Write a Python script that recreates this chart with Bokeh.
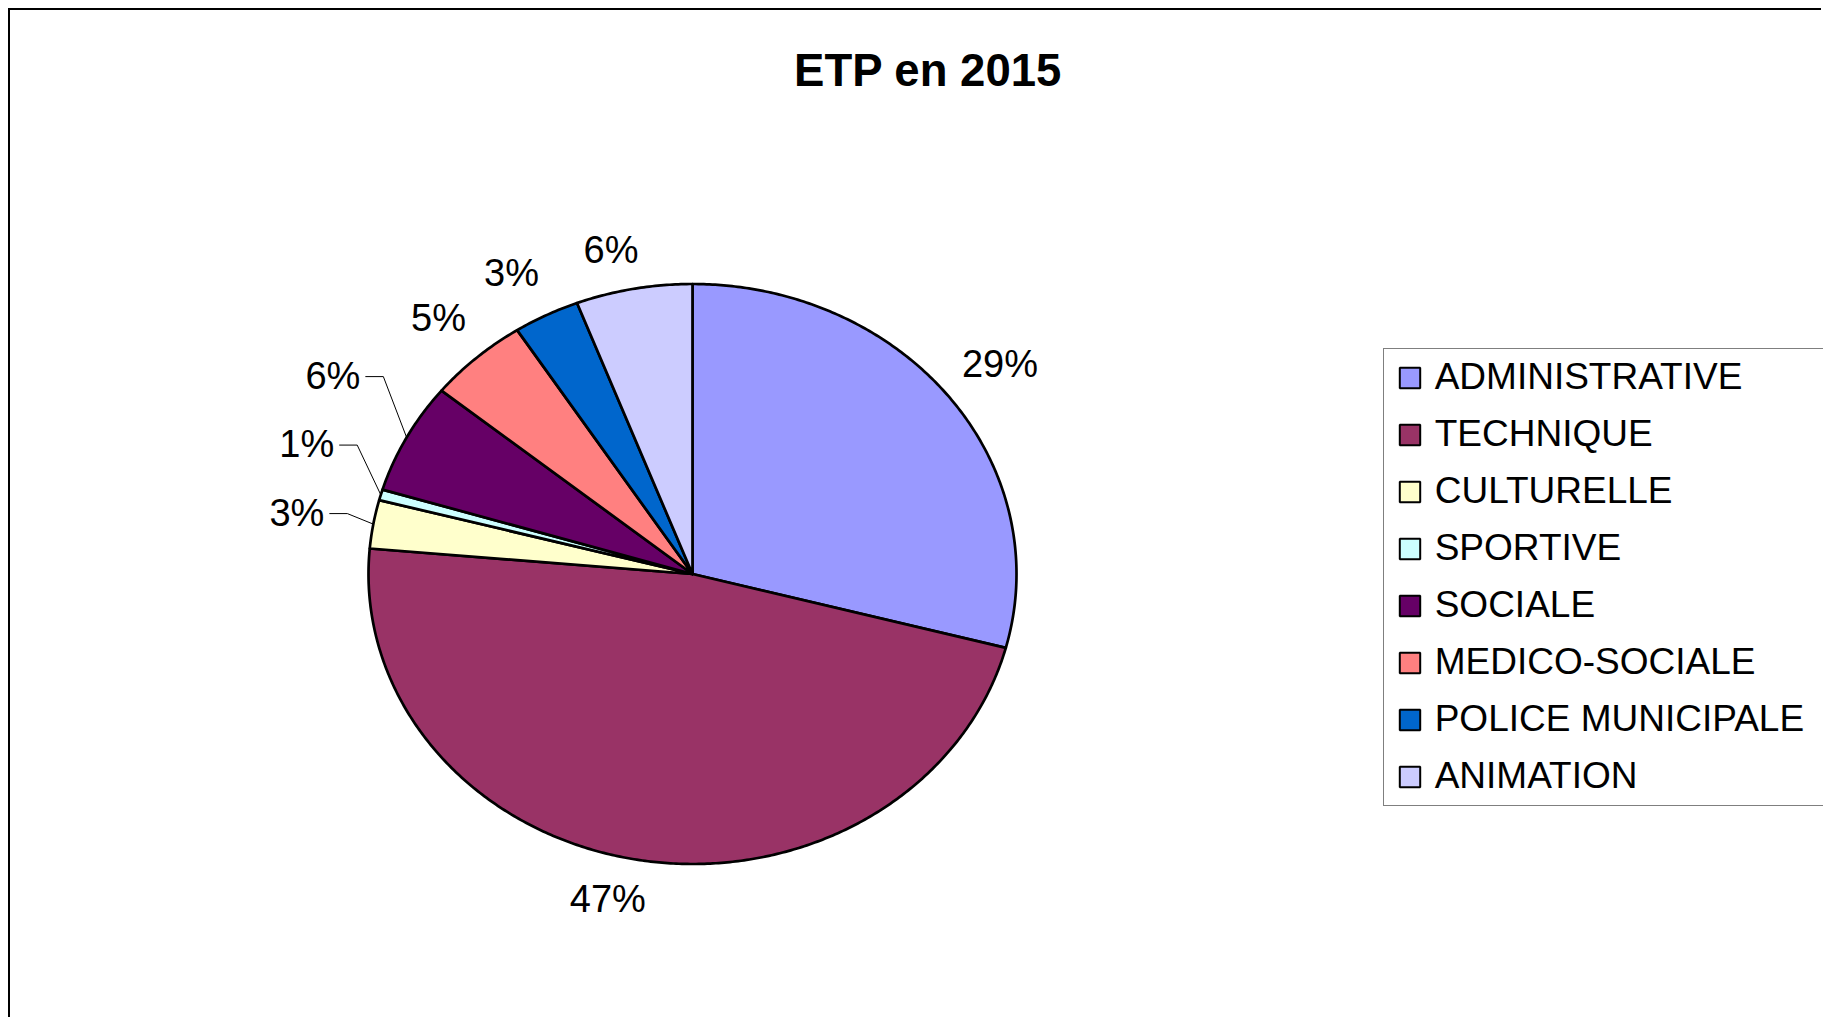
import numpy as np
from bokeh.plotting import figure
from bokeh.models import ColumnDataSource, Range1d, Legend, LegendItem, Label
from bokeh.core.properties import value
from bokeh.embed import file_html
from bokeh.resources import INLINE

# ---------------- data ----------------
categories = ["ADMINISTRATIVE", "TECHNIQUE", "CULTURELLE", "SPORTIVE",
              "SOCIALE", "MEDICO-SOCIALE", "POLICE MUNICIPALE", "ANIMATION"]
etp_share = [29.1, 47.3, 2.7, 0.6, 6.2, 5.0, 3.3, 5.8]
title_text = "ETP en 2015"

# ---------------- styles / layout ----------------
colors = ["#9999FF", "#993366", "#FFFFCC", "#CCFFFF",
          "#660066", "#FF8080", "#0066CC", "#CCCCFF"]
FONT = "Liberation Sans"
W, H = 1813, 1009
CX, CY = 682, 563.5          # pie centre (pixels in the canvas)
RX, RY = 324, 290            # pie radii (elliptical, as in the original)
LABEL_PX = 38
label_nudge = [(0, 0), (0, 0), (-33, -1), (-31, -34), (-32, -33), (0, -5), (0, -5), (0, 0)]
has_leader = [False, False, True, True, True, False, False, False]

# ---------------- geometry from the data ----------------
vals = np.array(etp_share, dtype=float)
frac = vals / vals.sum()
ends = np.cumsum(frac)
starts = ends - frac

xs, ys = [], []
for a0, a1 in zip(starts, ends):
    n = max(int((a1 - a0) * 720), 4)
    t = np.linspace(a0, a1, n + 1) * 2 * np.pi
    xs.append([CX] + list(CX + RX * np.sin(t)))
    ys.append([CY] + list(CY - RY * np.cos(t)))

slice_src = ColumnDataSource(dict(xs=xs, ys=ys, color=colors, name=categories))

char_w = {"%": 0.889}
def text_width(s):
    return sum(char_w.get(ch, 0.556) for ch in s) * LABEL_PX

lab_x, lab_y, lab_t = [], [], []
lead_x, lead_y = [], []
for i, (a0, a1) in enumerate(zip(starts, ends)):
    mid = (a0 + a1) / 2 * 2 * np.pi
    s, c = np.sin(mid), np.cos(mid)
    txt = f"{round(frac[i] * 100)}%"
    w = text_width(txt)
    ax = CX + 1.05 * RX * s
    ay = CY - 1.06 * RY * c
    x = ax + w / 2 * np.clip(4 * s, -1, 1)
    y = ay - 22 * np.clip(2 * c, -1, 1)
    dx, dy = label_nudge[i]
    x += dx
    y += dy
    lab_x.append(x); lab_y.append(y); lab_t.append(txt)
    if has_leader[i]:
        ex = CX + RX * s
        ey = CY - RY * c
        x0 = x + w / 2 + 5
        lead_x.append([x0, x0 + 18, ex])
        lead_y.append([y + 1, y + 1, ey])

label_src = ColumnDataSource(dict(x=lab_x, y=lab_y, text=lab_t))

# ---------------- figure ----------------
p = figure(width=W, height=H, x_range=Range1d(0, W), y_range=Range1d(H, 0),
           output_backend="svg", toolbar_location=None, min_border=0,
           x_axis_location=None, y_axis_location=None)
p.grid.visible = False
p.outline_line_color = None
p.background_fill_color = "white"
p.border_fill_color = "white"
p.styles = {"border-left": "2px solid #000000", "border-top": "2px solid #000000",
            "margin-left": "8px", "margin-top": "8px"}

p.patches("xs", "ys", source=slice_src, fill_color="color", line_color="black",
          line_width=2.7, line_join="round")

p.multi_line(lead_x, lead_y, line_color="black", line_width=1)

p.text("x", "y", text="text", source=label_src, text_font=value(FONT),
       text_font_size=f"{LABEL_PX}px", text_align="center", text_baseline="middle",
       text_color="black")

p.add_layout(Label(x=917.6, y=59.8, text=title_text, text_font=FONT,
                   text_font_style="bold", text_font_size="45.5px",
                   text_align="center", text_baseline="middle", text_color="black"))

# legend proxies (not drawn: NaN positions)
leg_src = ColumnDataSource(dict(x=[np.nan] * len(categories), y=[np.nan] * len(categories),
                                color=colors))
proxy = p.scatter("x", "y", source=leg_src, marker="square", size=22,
                  fill_color="color", line_color="black", line_width=2)

items = [LegendItem(label=value(c), renderers=[proxy], index=i) for i, c in enumerate(categories)]
legend = Legend(items=items, location=(1372.7, H - 795.5),
                label_text_font=FONT, label_text_font_size="37px", label_text_color="black",
                label_height=57, label_width=470, glyph_height=57, glyph_width=51,
                label_standoff=0, spacing=0, padding=0, margin=0,
                border_line_color="black", border_line_width=1.5,
                background_fill_color="white", background_fill_alpha=1)
p.add_layout(legend)

open("out.html", "w").write(file_html(p, INLINE))
